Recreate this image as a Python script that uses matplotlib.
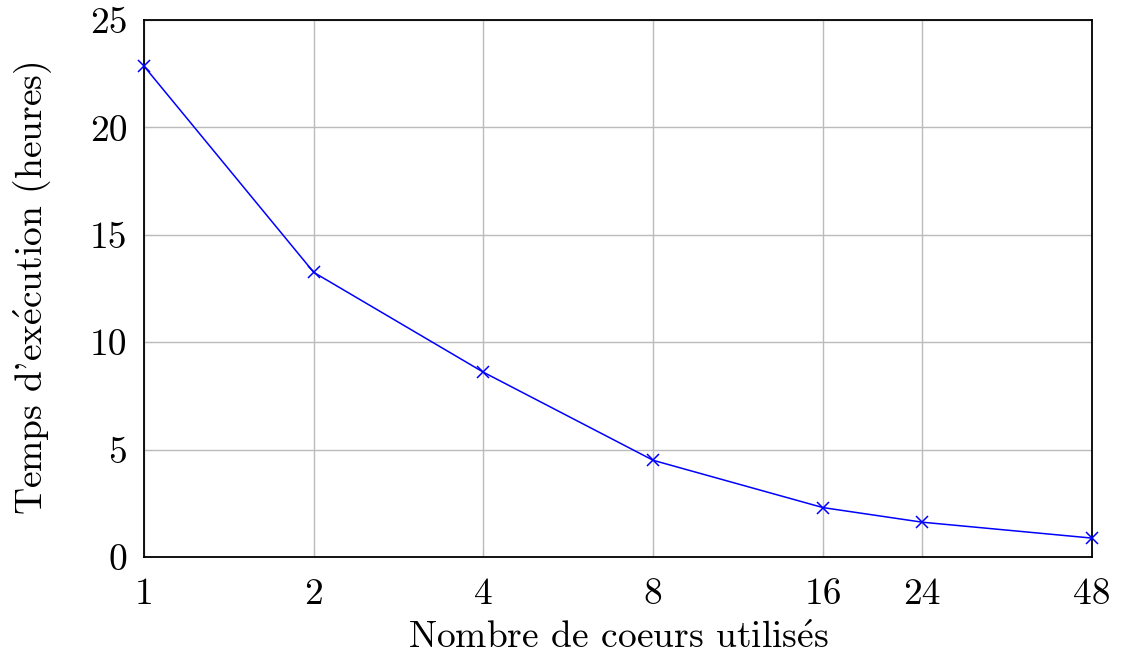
import matplotlib
matplotlib.use("Agg")
import matplotlib.pyplot as plt
from matplotlib.ticker import FixedLocator, NullLocator

plt.rcParams["font.family"] = ["cmr10", "DejaVu Serif"]
plt.rcParams["mathtext.fontset"] = "cm"
plt.rcParams["axes.formatter.use_mathtext"] = True

cores = [1, 2, 4, 8, 16, 24, 48]
hours = [22.85, 13.25, 8.6, 4.5, 2.3, 1.62, 0.88]
core_labels = ["1", "2", "4", "8", "16", "24", "48"]
y_ticks = [0, 5, 10, 15, 20, 25]

fig = plt.figure(figsize=(11.25, 6.57), dpi=100)
ax = fig.add_axes([0.128, 0.1522, 0.8427, 0.8174])

ax.plot(cores, hours, color="blue", lw=1.1, marker="x", ms=8, mew=1.1,
        clip_on=False, zorder=3)

ax.set_xscale("log", base=2)
ax.set_xlim(1, 48)
ax.set_ylim(0, 25)
ax.xaxis.set_major_locator(FixedLocator(cores))
ax.xaxis.set_minor_locator(NullLocator())
ax.set_xticklabels(core_labels)
ax.set_yticks(y_ticks)
ax.set_yticklabels([str(v) for v in y_ticks])
ax.grid(True, color="#bbbbbb", lw=1.0)
ax.set_axisbelow(True)
for s in ax.spines.values():
    s.set_linewidth(1.3)
    s.set_color("black")
ax.tick_params(axis="both", direction="in", length=6, color="#bbbbbb",
               labelsize=27)
ax.tick_params(axis="x", pad=15)
ax.tick_params(axis="y", pad=12)

# é drawn through mathtext so it stays in Computer Modern
e_acute = r"$\mathrm{\acute{e}}$"
ax.set_xlabel("Nombre de coeurs utilis" + e_acute + "s", fontsize=27,
              labelpad=8)
ax.set_ylabel("Temps d'ex" + e_acute + "cution (heures)", fontsize=27,
              labelpad=26)

fig.savefig("out.png", facecolor="white")
